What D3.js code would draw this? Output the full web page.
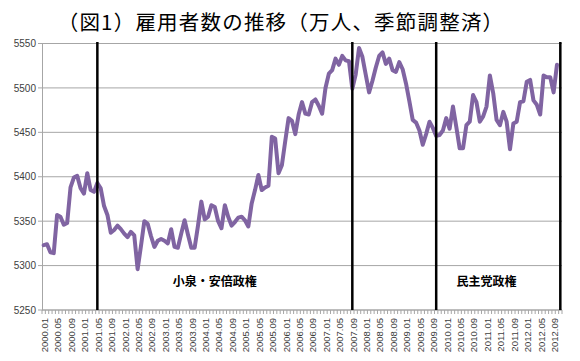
<!DOCTYPE html>
<html>
<head>
<meta charset="utf-8">
<script src="https://cdnjs.cloudflare.com/ajax/libs/d3/7.8.5/d3.min.js"></script>
<style>
    body { margin: 0; background: #fff; }
</style>
</head>
<body>
<div id="chart-area"></div>
<script>
// Monthly categories 2000.01 - 2012.11 (last category has no value yet)
var months = [];
for (var y = 2000; y <= 2012; y++) {
    for (var m = 1; m <= 12; m++) {
        if (y == 2012 && m > 11) break;
        months.push(y + "." + (m < 10 ? "0" + m : m));
    }
}

// 雇用者数 (万人, seasonally adjusted)
var employees = [
    5323, 5324, 5315, 5314, 5357, 5355, 5346, 5348, 5388, 5399, 5401, 5387,
    5381, 5404, 5385, 5383, 5393, 5387, 5367, 5357, 5337, 5340, 5345, 5341,
    5336, 5332, 5338, 5334, 5296, 5322, 5350, 5347, 5333, 5321, 5328, 5330,
    5328, 5325, 5341, 5321, 5320, 5336, 5351, 5335, 5320, 5320, 5345, 5372,
    5352, 5355, 5368, 5366, 5350, 5342, 5368, 5355, 5345, 5349, 5354, 5355,
    5351, 5344, 5370, 5385, 5402, 5385, 5388, 5390, 5445, 5443, 5404, 5413,
    5440, 5466, 5463, 5448, 5470, 5484, 5471, 5470, 5484, 5487, 5480, 5471,
    5500, 5516, 5520, 5533, 5526, 5536, 5531, 5530, 5499, 5515, 5545, 5535,
    5515, 5495, 5508, 5523, 5536, 5540, 5527, 5533, 5520, 5518, 5529, 5521,
    5505, 5485, 5464, 5461, 5452, 5436, 5448, 5462, 5455, 5446, 5447, 5452,
    5466, 5454, 5479, 5456, 5432, 5432, 5458, 5462, 5492, 5484, 5462, 5468,
    5479, 5514, 5494, 5464, 5458, 5473, 5462, 5431, 5460, 5462, 5484, 5485,
    5507, 5509, 5486, 5481, 5470, 5514, 5512, 5512, 5495, 5526
];

var yTicks = [5250, 5300, 5350, 5400, 5450, 5500, 5550];
var tickMonths = months.filter(function(d, i) { return i % 4 == 0; });

// Government changes and the names written inside the chart
var regimeBreaks = ["2001.05", "2007.09", "2009.10", "2012.11"];
var regimeNames = ["小泉・安倍政権", "民主党政権"];
var regimeNameAt = ["2004.04", "2011.01"];

var titleText = "（図1）雇用者数の推移（万人、季節調整済）";

var margin = { top: 43.5, right: 18, bottom: 51, left: 42 },
    width  = 580 - margin.left - margin.right,
    height = 361 - margin.top  - margin.bottom;

var svg = d3.select("#chart-area")
    .append("svg")
    .attr("width", 580)
    .attr("height", 361);

svg.append("text")
    .attr("x", 281)
    .attr("y", 29.5)
    .attr("text-anchor", "middle")
    .style("font-family", "'Noto Sans CJK JP', sans-serif")
    .style("font-size", "20.5px")
    .style("letter-spacing", "1.2px")
    .style("fill", "#000")
    .text(titleText);

var g = svg.append("g")
    .attr("transform", "translate(" + margin.left + "," + margin.top + ")");

var xScale = d3.scaleBand()
    .domain(months)
    .range([0, width])
    .padding(0);

var yScale = d3.scaleLinear()
    .domain([5250, 5550])
    .range([height, 0]);

var half = xScale.bandwidth() / 2;

// gridlines
g.selectAll(".grid")
    .data(yTicks)
    .enter()
    .append("line")
    .attr("class", "grid")
    .attr("x1", -4)
    .attr("x2", width)
    .attr("y1", function(d) { return yScale(d); })
    .attr("y2", function(d) { return yScale(d); })
    .style("stroke", "#a6a6a6")
    .style("stroke-width", 1);

// y axis
var yAxis = d3.axisLeft(yScale)
    .tickValues(yTicks)
    .tickFormat(d3.format("d"))
    .tickSize(0)
    .tickPadding(6);

var yAxisG = g.append("g")
    .attr("class", "y axis")
    .call(yAxis);

yAxisG.select(".domain").style("stroke", "#a6a6a6");
yAxisG.selectAll("text")
    .style("font-family", "'Liberation Sans', Arial, sans-serif")
    .style("font-size", "10px")
    .style("fill", "#404040");

// x axis: baseline, a tick at every month boundary, rotated labels
g.append("line")
    .attr("x1", 0)
    .attr("x2", width)
    .attr("y1", height)
    .attr("y2", height)
    .style("stroke", "#a6a6a6");

g.selectAll(".mtick")
    .data(months)
    .enter()
    .append("line")
    .attr("class", "mtick")
    .attr("x1", function(d) { return xScale(d); })
    .attr("x2", function(d) { return xScale(d); })
    .attr("y1", height)
    .attr("y2", height + 4)
    .style("stroke", "#a6a6a6");

g.append("line")
    .attr("x1", width)
    .attr("x2", width)
    .attr("y1", height)
    .attr("y2", height + 4)
    .style("stroke", "#a6a6a6");

g.selectAll(".xlabel")
    .data(tickMonths)
    .enter()
    .append("text")
    .attr("class", "xlabel")
    .attr("transform", function(d) {
        return "translate(" + (xScale(d) + half + 1) + "," + (height + 8) + ") rotate(-90)";
    })
    .attr("dy", "0.35em")
    .style("text-anchor", "end")
    .style("font-family", "'Liberation Sans', Arial, sans-serif")
    .style("font-size", "9.5px")
    .style("fill", "#404040")
    .text(function(d) { return d; });

// the series
var line = d3.line()
    .x(function(d, i) { return xScale(months[i]) + half; })
    .y(function(d) { return yScale(d); });

g.append("path")
    .datum(employees)
    .attr("d", line)
    .style("fill", "none")
    .style("stroke", "#8064a2")
    .style("stroke-width", 4)
    .style("stroke-linejoin", "round")
    .style("stroke-linecap", "round");

// government boundaries
g.selectAll(".regime")
    .data(regimeBreaks)
    .enter()
    .append("line")
    .attr("class", "regime")
    .attr("x1", function(d) { return xScale(d) + half; })
    .attr("x2", function(d) { return xScale(d) + half; })
    .attr("y1", -1.5)
    .attr("y2", height)
    .style("stroke", "#000")
    .style("stroke-width", 2.5);

g.selectAll(".regime-name")
    .data(regimeNames)
    .enter()
    .append("text")
    .attr("class", "regime-name")
    .attr("x", function(d, i) { return xScale(regimeNameAt[i]) + half; })
    .attr("y", yScale(5277))
    .attr("text-anchor", "middle")
    .style("font-family", "'Noto Sans CJK JP', sans-serif")
    .style("font-size", "12px")
    .style("font-weight", "bold")
    .style("fill", "#000")
    .text(function(d) { return d; });
</script>
</body>
</html>
